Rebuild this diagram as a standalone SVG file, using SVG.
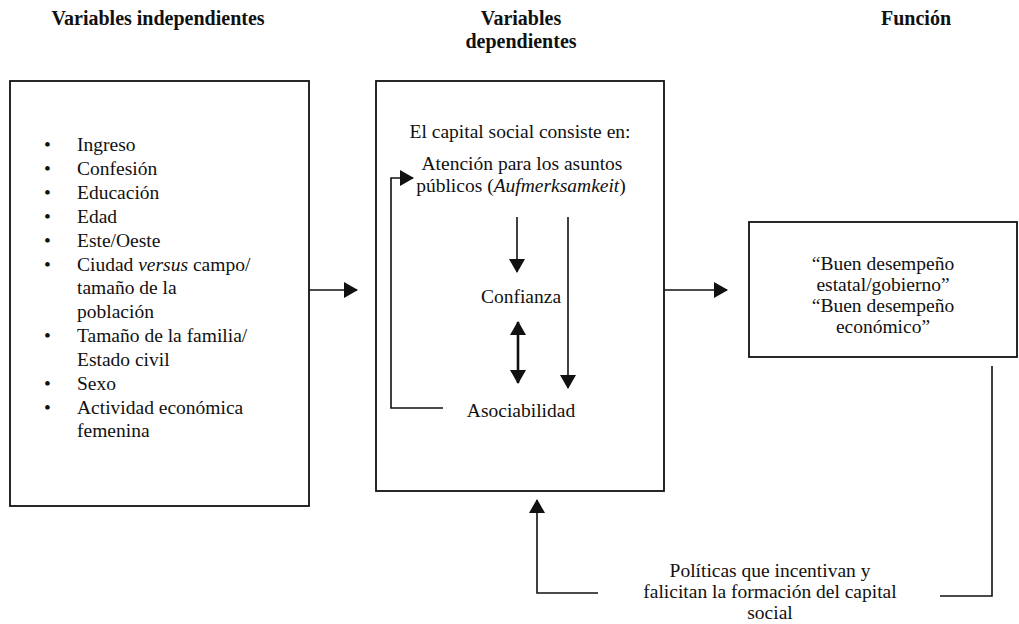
<svg xmlns="http://www.w3.org/2000/svg" width="1019" height="624" viewBox="0 0 1019 624">
<style>
.t{font-family:"Liberation Serif","Times New Roman",serif;font-size:19.5px;fill:#111}
.h{font-family:"Liberation Serif","Times New Roman",serif;font-size:20px;font-weight:bold;fill:#111}
.c{text-anchor:middle}
.box{fill:#fff;stroke:#111;stroke-width:1.8}
.ln{fill:none;stroke:#111;stroke-width:1.6}
.thick{stroke-width:2.6}
</style>
<defs>
<marker id="ah" viewBox="0 0 14 16" refX="13" refY="8" markerWidth="14" markerHeight="16" markerUnits="userSpaceOnUse" orient="auto-start-reverse">
<path d="M0,0 L14,8 L0,16 z" fill="#111"/>
</marker>
</defs>
<rect width="1019" height="624" fill="#fff"/>

<g id="headings">
<text class="h c" x="158" y="25">Variables independientes</text>
<text class="h c" x="521" y="25">Variables</text>
<text class="h c" x="521" y="48">dependientes</text>
<text class="h c" x="916" y="25">Función</text>
</g>

<g id="node-independientes">
<rect class="box" x="10" y="81" width="299" height="425"/>
<g class="t">
<text x="44" y="151">•</text><text x="77" y="151">Ingreso</text>
<text x="44" y="175">•</text><text x="77" y="175">Confesión</text>
<text x="44" y="199">•</text><text x="77" y="199">Educación</text>
<text x="44" y="223">•</text><text x="77" y="223">Edad</text>
<text x="44" y="247">•</text><text x="77" y="247">Este/Oeste</text>
<text x="44" y="271">•</text><text x="77" y="271">Ciudad <tspan font-style="italic">versus</tspan> campo/</text>
<text x="77" y="294">tamaño de la</text>
<text x="77" y="318">población</text>
<text x="44" y="342">•</text><text x="77" y="342">Tamaño de la familia/</text>
<text x="77" y="366">Estado civil</text>
<text x="44" y="390">•</text><text x="77" y="390">Sexo</text>
<text x="44" y="414">•</text><text x="77" y="414">Actividad económica</text>
<text x="77" y="437">femenina</text>
</g>
</g>

<g id="node-dependientes">
<rect class="box" x="376" y="81" width="288" height="410"/>
<g class="t c">
<text x="520" y="138">El capital social consiste en:</text>
<text x="522" y="170">Atención para los asuntos</text>
<text x="521" y="192">públicos (<tspan font-style="italic">Aufmerksamkeit</tspan>)</text>
<text x="521" y="303">Confianza</text>
<text x="521" y="417">Asociabilidad</text>
</g>
</g>

<g id="node-funcion">
<rect class="box" x="749" y="222" width="268" height="135"/>
<g class="t c">
<text x="883" y="270">“Buen desempeño</text>
<text x="883" y="291">estatal/gobierno”</text>
<text x="883" y="312">“Buen desempeño</text>
<text x="883" y="333">económico”</text>
</g>
</g>

<g id="node-politicas">
<g class="t c">
<text x="770" y="577">Políticas que incentivan y</text>
<text x="770" y="598">falicitan la formación del capital</text>
<text x="770" y="619">social</text>
</g>
</g>

<g id="connectors">
<line class="ln" x1="309" y1="290" x2="357" y2="290" marker-end="url(#ah)"/>
<line class="ln" x1="664" y1="290" x2="727" y2="290" marker-end="url(#ah)"/>
<line class="ln" x1="517" y1="217" x2="517" y2="272" marker-end="url(#ah)"/>
<line class="ln thick" x1="518" y1="322" x2="518" y2="383" marker-start="url(#ah)" marker-end="url(#ah)"/>
<line class="ln" x1="568" y1="217" x2="568" y2="388" marker-end="url(#ah)"/>
<polyline class="ln" points="443,408 391,408 391,178 413,178" marker-end="url(#ah)"/>
<polyline class="ln" points="598,593 537,593 537,500" marker-end="url(#ah)"/>
<polyline class="ln" points="940,596 992,596 992,366"/>
</g>
</svg>
